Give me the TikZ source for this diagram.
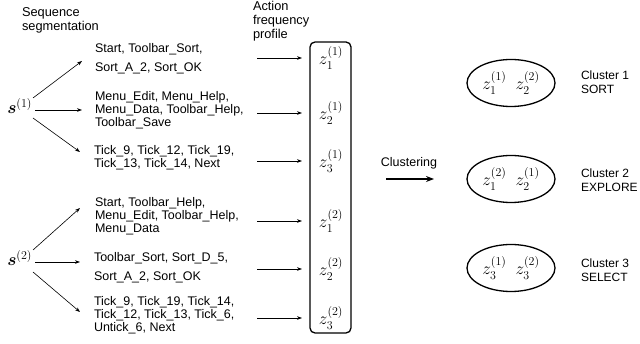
\documentclass[tikz,border=0pt]{standalone}
\usepackage{amsmath}
\usepackage{fontspec}
\setmainfont{Liberation Sans}
\usetikzlibrary{arrows.meta, positioning, shapes.geometric}

\begin{document}
\begin{tikzpicture}[
        x=1pt, y=-1pt,
        font=\fontsize{12.5}{12.8}\selectfont,
        every node/.style={outer sep=0pt},
        % one unit = one pixel of the 640 x 344 figure, y running down
        seq/.style={anchor=west, align=left, inner sep=0pt},
        head/.style={anchor=west, align=left, inner sep=0pt,
                     font=\fontsize{12.8}{14}\selectfont},
        tag/.style={anchor=west, align=left, inner sep=0pt,
                    font=\fontsize{12}{13.5}\selectfont},
        sym/.style={anchor=east, inner sep=0pt,
                    font=\fontsize{18}{18}\selectfont},
        zval/.style={inner sep=0pt, font=\fontsize{18}{18}\selectfont},
        flow/.style={-{Stealth[length=5pt, width=3.6pt]}, line width=0.6pt},
        zbox/.style={draw, rounded corners=5pt, line width=1.3pt,
                     minimum width=41pt, minimum height=291pt, inner sep=0pt},
        cluster/.style={ellipse, draw, line width=1.3pt,
                        minimum width=88pt, minimum height=47pt, inner sep=0pt,
                        font=\fontsize{18}{18}\selectfont},
        bigflow/.style={-{Stealth[length=8pt, width=6pt]}, line width=1.3pt}
    ]
        \useasboundingbox (0,0) rectangle (640,344);

        \node[head] (seqhead) at (22,20)  {Sequence\\segmentation};
        \node[head] (acthead) at (253,21) {Action\\frequency\\profile};

        \node[sym] (s1) at (32,106) {$\boldsymbol{s}^{(1)}$};
        \node[sym] (s2) at (32,258) {$\boldsymbol{s}^{(2)}$};

        \node[seq] (g11) at (95,59)  {Start, Toolbar\_Sort,\\[6pt]Sort\_A\_2, Sort\_OK};
        \node[seq] (g12) at (95,110) {Menu\_Edit, Menu\_Help,\\Menu\_Data, Toolbar\_Help,\\Toolbar\_Save};
        \node[seq] (g13) at (94,158) {Tick\_9, Tick\_12, Tick\_19,\\Tick\_13, Tick\_14, Next};
        \node[seq] (g21) at (95,216) {Start, Toolbar\_Help,\\Menu\_Edit, Toolbar\_Help,\\Menu\_Data};
        \node[seq] (g22) at (94,268) {Toolbar\_Sort, Sort\_D\_5,\\[6pt]Sort\_A\_2, Sort\_OK};
        \node[seq] (g23) at (94,315) {Tick\_9, Tick\_19, Tick\_14,\\Tick\_12, Tick\_13, Tick\_6,\\Untick\_6, Next};

        \draw[flow] ([shift={(1,-8)}]s1.east) -- ([shift={(-13,2)}]g11.west);
        \draw[flow] ([shift={(3,4)}]s1.east)  -- ([shift={(-13,0)}]g12.west);
        \draw[flow] ([shift={(1,12)}]s1.east) -- ([shift={(-14,-6)}]g13.west);
        \draw[flow] ([shift={(1,-8)}]s2.east) -- ([shift={(-15,-8)}]g21.west);
        \draw[flow] ([shift={(3,4)}]s2.east)  -- ([shift={(-14,-6)}]g22.west);
        \draw[flow] ([shift={(1,14)}]s2.east) -- ([shift={(-14,-3)}]g23.west);

        \node[zbox] (box) at (330.5,187.5) {};
        \node[zval] (z11) at (331,58)  {$z_1^{(1)}$};
        \node[zval] (z12) at (331,113) {$z_2^{(1)}$};
        \node[zval] (z13) at (331,161) {$z_3^{(1)}$};
        \node[zval] (z21) at (331,221) {$z_1^{(2)}$};
        \node[zval] (z22) at (331,269) {$z_2^{(2)}$};
        \node[zval] (z23) at (331,318) {$z_3^{(2)}$};

        \coordinate (tail) at (257,0);
        \coordinate (tip)  at (302,0);
        \foreach \z in {z11,z12,z13,z21,z22,z23}
            \draw[flow] (tail |- \z) -- (tip |- \z);

        \node[cluster] (c1) at (511,83)  {$z_1^{(1)}\hspace{9pt}z_2^{(2)}$};
        \node[cluster] (c2) at (511,179) {$z_1^{(2)}\hspace{9pt}z_2^{(1)}$};
        \node[cluster] (c3) at (511,268) {$z_3^{(1)}\hspace{9pt}z_3^{(2)}$};

        \draw[bigflow, shorten <=35pt, shorten >=33pt] (box.east |- c2.west) -- (c2.west)
            node[midway, above=10pt, inner sep=0pt] (clust) {Clustering};

        \node[tag] (l1) at (581,82)  {Cluster 1\\SORT};
        \node[tag] (l2) at (581,180) {Cluster 2\\EXPLORE};
        \node[tag] (l3) at (581,270) {Cluster 3\\SELECT};
    \end{tikzpicture}
\end{document}
